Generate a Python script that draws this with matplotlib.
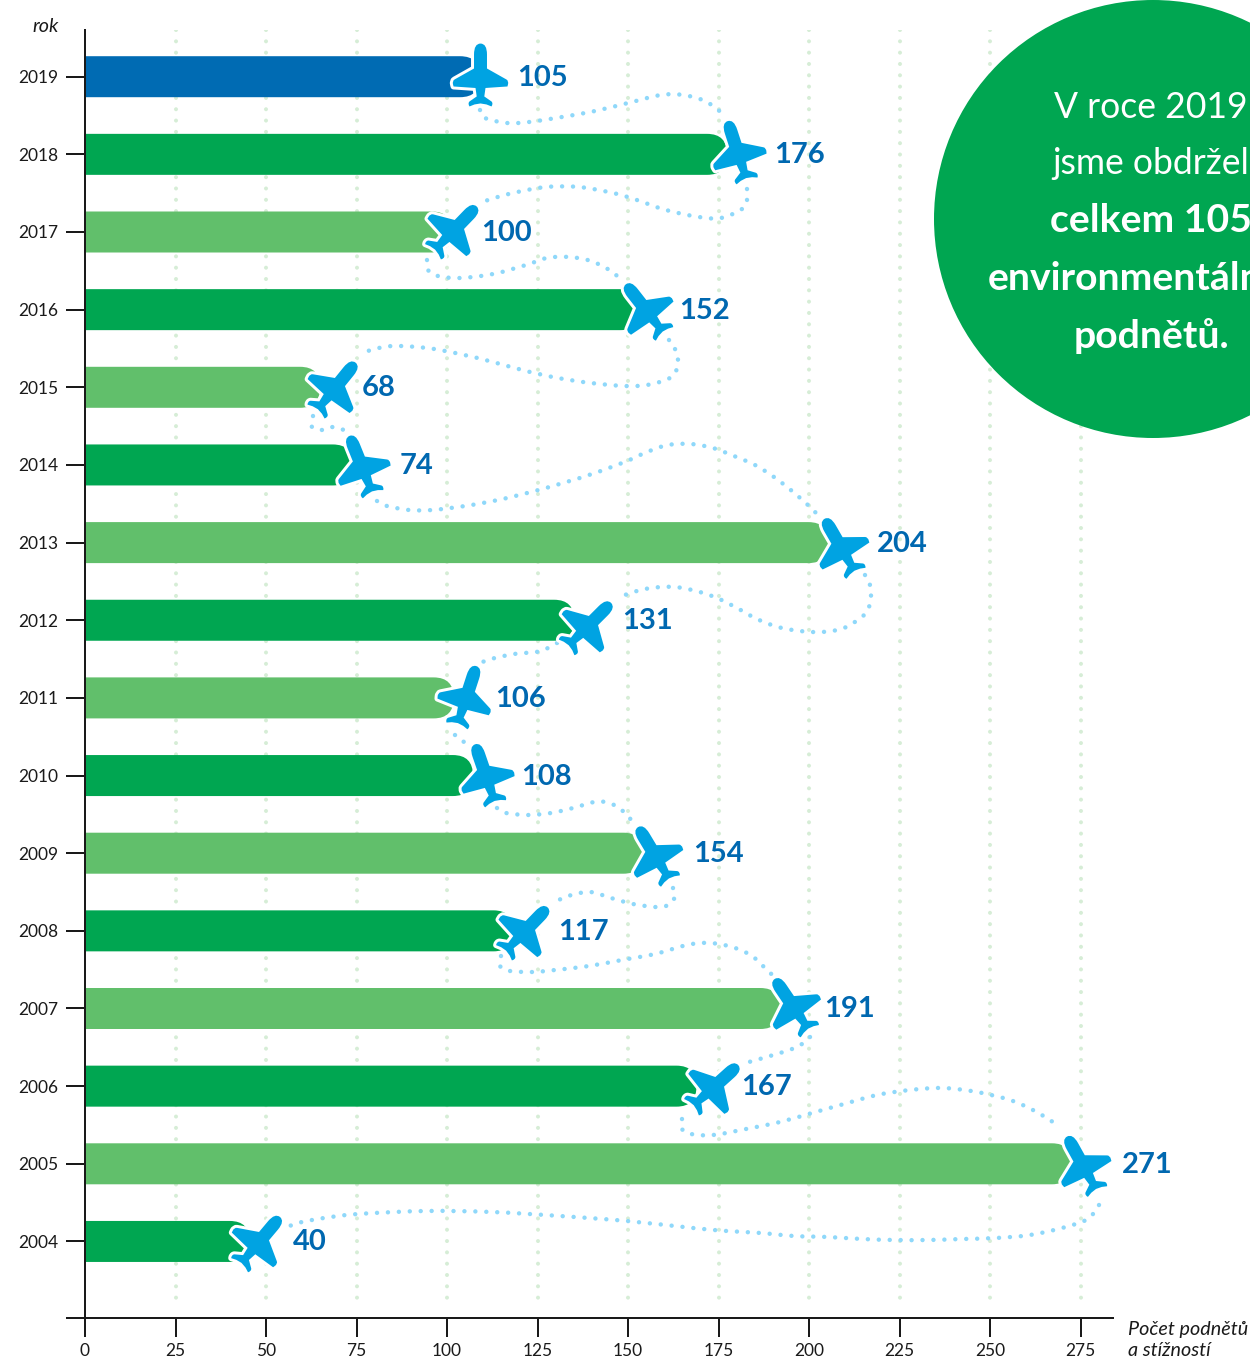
import numpy as np
import matplotlib
matplotlib.use("Agg")
import matplotlib.pyplot as plt
from matplotlib.markers import MarkerStyle
from matplotlib.path import Path
from matplotlib.patches import PathPatch, Circle
from matplotlib.transforms import Affine2D, ScaledTranslation

years = [2019, 2018, 2017, 2016, 2015, 2014, 2013, 2012, 2011, 2010, 2009, 2008, 2007, 2006, 2005, 2004]
values = [105, 176, 100, 152, 68, 74, 204, 131, 106, 108, 154, 117, 191, 167, 271, 40]
xticks = list(range(0, 276, 25))
circle_lines = ["V roce 2019", "jsme obdržel", "celkem 105", "environmentálních", "podnětů."]

# plane offset from bar end in px, rotation, label offset, where the flat part of the bar stops
plane_dx = [15, 14.5, 7, 10, 4, 8, 16.5, 29, -3, 9.5, 12, 16.5, 15.6, 24.5, 16, 29]
plane_dy = [-1.5, -3.5, -2.5, -0.5, -0.5, 0.5, 3.5, 4.5, -1.5, -1.5, 0.5, -0.5, -3, -0.5, 0.5, -0.5]
plane_rot = [0, 18, -44, 38, -39, 22, 30, -45, -18, 19, 31, -44, 34, -48, 29, -40]
label_dx = [52.5, 52.5, 34.5, 43.5, 31, 46.5, 53.5, 62.5, 26.5, 45.5, 50.5, 50, 47.5, 52, 56, 63]
flat_dx = [-5, -15, -15, -15, -31, -20, -15, -5, -35, -23, -19, -15, -16, -13, -14, 0]

BLUE = "#006BB3"
GREEN = "#00A651"
LIGHT = "#61BF6B"
PLANE_C = "#00A3E2"
LABEL_C = "#0068B0"
GRID_C = "#D6EDD6"
TRAIL_C = "#8FD8FA"
TEXT_C = "#1A1A1A"
bar_colors = [BLUE, GREEN, LIGHT, GREEN, LIGHT, GREEN, LIGHT, GREEN, LIGHT, GREEN, LIGHT, GREEN, LIGHT, GREEN, LIGHT, GREEN]

# flight trails, in image pixels
trails = [
    [(480, 110), (485, 118), (507, 123), (529, 122), (562, 117), (595, 111), (628, 103), (661, 95), (683, 95), (705, 101), (722, 113)],
    [(747, 189), (747, 200), (742, 209), (721, 218), (699, 217), (666, 210), (634, 199), (613, 193), (579, 187), (546, 187), (513, 193), (491, 199), (480, 203)],
    [(427, 260), (428, 270), (438, 276), (460, 278), (493, 274), (526, 265), (547, 258), (569, 257), (591, 261), (611, 271), (620, 279)],
    [(669, 340), (675, 349), (678, 360), (676, 371), (668, 379), (647, 385), (625, 386), (591, 383), (558, 378), (526, 371), (493, 362), (460, 354), (427, 348), (393, 346), (371, 350), (361, 355)],
    [(313, 416), (312, 427), (323, 430), (333, 427), (344, 430)],
    [(377, 501), (387, 506), (409, 510), (432, 510), (465, 506), (498, 500), (531, 492), (563, 483), (595, 473), (627, 461), (647, 452), (668, 445), (691, 444), (713, 448), (734, 456), (755, 465), (774, 477), (792, 491), (809, 506), (816, 513)],
    [(865, 575), (870, 585), (871, 596), (869, 607), (863, 616), (844, 628), (822, 632), (800, 631), (778, 627), (757, 619), (737, 608), (717, 598), (696, 591), (674, 587), (651, 588), (630, 593), (620, 598)],
    [(557, 643), (546, 649), (536, 652), (514, 654), (491, 659), (480, 663)],
    [(455, 735), (464, 742)],
    [(497, 808), (506, 813), (528, 815), (551, 813), (573, 808), (594, 802), (605, 802), (616, 806), (625, 813), (632, 821)],
    [(673, 888), (674, 899), (666, 906), (655, 907), (633, 904), (611, 898), (590, 892), (568, 896), (557, 901)],
    [(501, 956), (500, 966), (510, 971), (533, 972), (555, 970), (589, 966), (622, 960), (655, 954), (687, 945), (709, 943), (732, 947), (752, 956), (768, 971), (777, 979)],
    [(810, 1037), (802, 1044), (792, 1049), (770, 1056), (749, 1062)],
    [(682, 1119), (682, 1129), (691, 1134), (713, 1135), (746, 1129), (780, 1122), (812, 1113), (844, 1104), (877, 1095), (910, 1090), (943, 1088), (977, 1092), (1010, 1100), (1031, 1109), (1050, 1120), (1059, 1127)],
    [(1099, 1205), (1093, 1214), (1084, 1221), (1062, 1228), (1030, 1235), (996, 1238), (962, 1239), (929, 1240), (895, 1240), (862, 1239), (828, 1237), (794, 1236), (761, 1233), (727, 1231), (693, 1228), (627, 1221), (560, 1216), (492, 1212), (425, 1211), (358, 1214), (324, 1218), (302, 1222), (292, 1225), (283, 1229)],
]

W, H = 1250, 1357
XSCALE = 3.62
YSCALE = 77.65
Y2019 = 76.7
plt.rcParams["font.family"] = ["Lato", "DejaVu Sans"]


def curve_through(points):
    # catmull-rom through the points, as bezier segments
    p = [points[0]] + list(points) + [points[-1]]
    p = np.array(p, dtype=float)
    verts = [p[1]]
    codes = [Path.MOVETO]
    for i in range(1, len(p) - 2):
        verts += [p[i] + (p[i + 1] - p[i - 1]) / 6, p[i + 1] - (p[i + 2] - p[i]) / 6, p[i + 1]]
        codes += [Path.CURVE4] * 3
    return Path(verts, codes)


def plane_path():
    verts = [(0, 32), (6.5, 32), (6.5, 21), (6.5, 7), (26, -4), (28.5, -5.5), (27.5, -9), (27, -11), (5, -12.5), (3.8, -21),
             (11, -26), (13, -28), (11, -31), (6, -29), (0, -28),
             (-6, -29), (-11, -31), (-13, -28), (-11, -26), (-3.8, -21), (-5, -12.5), (-27, -11), (-27.5, -9), (-28.5, -5.5),
             (-26, -4), (-6.5, 7), (-6.5, 21), (-6.5, 32), (0, 32)]
    codes = [Path.MOVETO, Path.CURVE3, Path.CURVE3, Path.LINETO, Path.LINETO, Path.CURVE3, Path.CURVE3, Path.LINETO,
             Path.LINETO, Path.LINETO, Path.LINETO, Path.CURVE3, Path.CURVE3, Path.LINETO, Path.LINETO,
             Path.LINETO, Path.LINETO, Path.CURVE3, Path.CURVE3, Path.LINETO, Path.LINETO, Path.LINETO, Path.LINETO,
             Path.CURVE3, Path.CURVE3, Path.LINETO, Path.LINETO, Path.CURVE3, Path.CURVE3]
    return Path(verts, codes)


def bar_path(value, year, flat):
    # bar from the axis to the value, nose rounded off past the flat part
    half = 20.5 / YSCALE
    x1 = value + flat / XSCALE
    x2 = x1 + 20 / XSCALE
    verts = [(0, year - half), (x1, year - half), (x2, year - half), (x2, year), (x2, year + half), (x1, year + half),
             (0, year + half), (0, year - half)]
    codes = [Path.MOVETO, Path.LINETO, Path.CURVE3, Path.CURVE3, Path.CURVE3, Path.CURVE3, Path.LINETO, Path.CLOSEPOLY]
    return Path(verts, codes)


fig = plt.figure(figsize=(W / 100, H / 100), dpi=100)
ax = fig.add_axes([85 / W, (H - 1318) / H, (1113 - 85) / W, (1318 - 30) / H])
ax.set_xlim(0, (1113 - 85) / XSCALE)
ybottom = 2019 - (1318 - Y2019) / YSCALE
ax.set_ylim(ybottom, 2019 + (Y2019 - 30) / YSCALE)

for s in ["top", "right"]:
    ax.spines[s].set_visible(False)
for s in ["left", "bottom"]:
    ax.spines[s].set_linewidth(1.44)
    ax.spines[s].set_color(TEXT_C)

ax.set_xticks(xticks)
ax.set_yticks(years + [ybottom])
ax.set_yticklabels([str(y) for y in years] + [""])
ax.tick_params(axis="both", length=13.7, width=1.44, color=TEXT_C, labelcolor=TEXT_C, labelsize=12.5)
ax.tick_params(axis="y", pad=5.3)
ax.tick_params(axis="x", pad=4.3)

# dotted vertical grid
for t in xticks[1:]:
    ax.plot([t, t], [ax.get_ylim()[1], 2019 - (1306 - Y2019) / YSCALE], color=GRID_C, lw=2.9,
            linestyle=(0, (0.01, 2.8)), dash_capstyle="round", zorder=1)

for i in range(len(years)):
    ax.add_patch(PathPatch(bar_path(values[i], years[i], flat_dx[i]), facecolor=bar_colors[i], edgecolor="none", zorder=2))

# image pixels -> display
pix = Affine2D().scale(1, -1).translate(0, H)

for t in trails:
    ax.add_patch(PathPatch(curve_through(t), fill=False, edgecolor=TRAIL_C, lw=3.2, linestyle=(0, (0.01, 2.45)),
                           capstyle="round", transform=pix, clip_on=False, zorder=3))

plane = plane_path()
for i in range(len(years)):
    off = ScaledTranslation(plane_dx[i] / 100, -plane_dy[i] / 100, fig.dpi_scale_trans)
    rot = Affine2D().rotate_deg(plane_rot[i])
    ax.plot(values[i], years[i], marker=MarkerStyle(plane, transform=rot, joinstyle="round"), ms=46, mfc="white", mec="white",
            mew=4.3, transform=ax.transData + off, clip_on=False, zorder=4)
    ax.plot(values[i], years[i], marker=MarkerStyle(plane, transform=rot), ms=46, mfc=PLANE_C, mew=0,
            transform=ax.transData + off, clip_on=False, zorder=5)
    ax.annotate(str(values[i]), (values[i], years[i]), xytext=(label_dx[i] * 0.72, -0.7), textcoords="offset points",
                ha="left", va="center", fontsize=21, fontweight="bold", color=LABEL_C, zorder=6)

# green circle with text
ax.add_patch(Circle((1153, 219), 219, facecolor=GREEN, edgecolor="none", transform=pix, clip_on=False, zorder=7))
line_y = [107, 164, 221, 279, 336]
for j, s in enumerate(circle_lines):
    w = "regular" if j < 2 else "bold"
    size = 25.6 if j < 2 else 28.2
    fig.text(1151 / W, 1 - line_y[j] / H, s, ha="center", va="center", fontsize=size, fontweight=w,
             color="white", zorder=8)

# axis captions
fig.text(59 / W, 1 - 26 / H, "rok", ha="right", va="center", fontsize=14.2, style="italic", color=TEXT_C)
fig.text(1128 / W, 1 - 1329 / H, "Počet podnětů", ha="left", va="center", fontsize=14.2, style="italic", color=TEXT_C)
fig.text(1128 / W, 1 - 1350 / H, "a stížností", ha="left", va="center", fontsize=14.2, style="italic", color=TEXT_C)

fig.savefig("out.png", dpi=100)
